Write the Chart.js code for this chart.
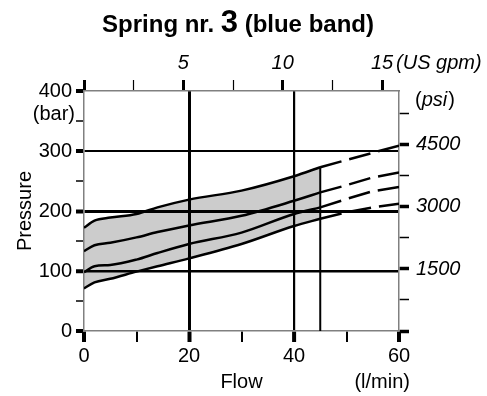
<!DOCTYPE html>
<html lang="en">
<head>
<meta charset="UTF-8">
<title>Spring nr. 3 (blue band)</title>
<style>
    html, body { margin: 0; padding: 0; background: #fff; }
    #wrap { width: 487px; height: 396px; }
</style>
<script src="https://cdn.jsdelivr.net/npm/chart.js"></script>
</head>
<body>
<div id="wrap"><canvas id="springChart" width="487" height="396"></canvas></div>
<script>
// flow in l/min, pressure in bar
const flowPoints = [0, 2, 5, 10, 14, 20, 30, 40, 45];
const bandUpper  = [172, 184, 189, 195, 206, 219, 234, 258, 273];
const curveHigh  = [133, 143, 147, 156, 165, 176, 192, 217, 231];
const curveLow   = [98, 108, 110, 119, 130, 145, 164, 195, 206];
const bandLower  = [71, 81, 87, 99, 108, 121, 145, 175, 187];

// dashed continuation past the 45 l/min limit
const extFlow  = [45, 50, 55, 60];
const extUpper = [273, 285, 297, 309];
const extHigh  = [231, 243, 256, 264];
const extLow   = [206, 220, 233, 240];
const extLower = [187, 198, 206, 212];

const limitFlow = 45;

const flowTicks = [0, 10, 20, 30, 40, 50, 60];
const gpmTicks  = [0, 2.5, 5, 7.5, 10, 12.5, 15];
const barTicks  = [0, 50, 100, 150, 200, 250, 300, 350, 400];
const psiTicks  = [0, 750, 1500, 2250, 3000, 3750, 4500, 5250];

const LPM_PER_GPM = 3.78541;
const PSI_PER_BAR = 14.5038;
const FONT = "'Liberation Sans', Arial, Helvetica, sans-serif";

function pts(xs, ys) {
    return xs.map((x, i) => ({ x: x, y: ys[i] }));
}

function solid(xs, ys, extra) {
    return Object.assign({
        data: pts(xs, ys),
        borderColor: '#000',
        borderWidth: 2.5,
        pointRadius: 0,
        fill: false
    }, extra || {});
}

function dashed(xs, ys) {
    return solid(xs, ys, { borderDash: [22, 8], cubicInterpolationMode: 'default', tension: 0 });
}

function setTicks(list) {
    return scale => { scale.ticks = list.map(v => ({ value: v })); };
}

const tickVal = c => (c.tick ? c.tick.value : NaN);

const extraText = {
    id: 'extraText',
    afterDraw(chart) {
        const c = chart.ctx;
        const area = chart.chartArea;
        const top = chart.scales.x2;
        c.save();
        c.fillStyle = '#000';

        // title with the large spring number
        const parts = [
            { t: 'Spring nr. ', f: 'bold 24px ' + FONT },
            { t: '3', f: 'bold 31px ' + FONT },
            { t: ' (blue band)', f: 'bold 24px ' + FONT }
        ];
        let total = 0;
        parts.forEach(p => { c.font = p.f; p.w = c.measureText(p.t).width; total += p.w; });
        let x = 238 - total / 2;
        c.textAlign = 'left';
        c.textBaseline = 'alphabetic';
        parts.forEach(p => { c.font = p.f; c.fillText(p.t, x, 32); x += p.w; });

        c.textBaseline = 'middle';
        c.font = '20px ' + FONT;
        c.textAlign = 'right';
        c.fillText('(bar)', area.left - 9, area.top + 23);
        c.fillText('(l/min)', area.right + 11, 382);

        c.font = 'italic 20px ' + FONT;
        c.textAlign = 'left';
        c.fillText('(US gpm)', top.getPixelForValue(15) + 14, 63);

        // (psi) with upright brackets
        let px = area.right + 16;
        c.font = '20px ' + FONT;
        c.fillText('(', px, 100);
        px += c.measureText('(').width;
        c.font = 'italic 20px ' + FONT;
        c.fillText('psi', px, 100);
        px += c.measureText('psi').width + 1;
        c.font = '20px ' + FONT;
        c.fillText(')', px, 100);
        c.restore();
    }
};

const tickFont = { family: FONT, size: 20 };
const italicFont = { family: FONT, size: 20, style: 'italic' };
const axisBorder = { display: true, color: '#808080', width: 1.5 };

new Chart(document.getElementById('springChart').getContext('2d'), {
    type: 'line',
    data: {
        datasets: [
            solid(flowPoints, bandUpper, { fill: 3, backgroundColor: '#cccccc' }),
            solid(flowPoints, curveHigh),
            solid(flowPoints, curveLow),
            solid(flowPoints, bandLower),
            dashed(extFlow, extUpper),
            dashed(extFlow, extHigh),
            dashed(extFlow, extLow),
            dashed(extFlow, extLower),
            solid([limitFlow, limitFlow], [0, bandUpper[bandUpper.length - 1]], { borderWidth: 2, tension: 0 })
        ]
    },
    options: {
        responsive: false,
        animation: false,
        layout: { padding: 0 },
        elements: { line: { cubicInterpolationMode: 'monotone' }, point: { radius: 0 } },
        plugins: {
            legend: { display: false },
            title: { display: false },
            tooltip: { enabled: false },
            filler: { drawTime: 'beforeDraw' }
        },
        scales: {
            x: {
                type: 'linear', position: 'bottom', min: 0, max: 60,
                afterBuildTicks: setTicks(flowTicks),
                afterFit: s => { s.height = 65; },
                ticks: { autoSkip: false, maxRotation: 0, padding: 2, color: '#000', font: tickFont,
                         callback: v => (v % 20 === 0 ? String(v) : '') },
                grid: {
                    color: '#000',
                    lineWidth: c => (tickVal(c) === 20 ? 3 : tickVal(c) === 40 ? 2.2 : 0),
                    tickColor: '#000',
                    tickWidth: c => (tickVal(c) % 20 === 0 ? 4 : 2),
                    tickLength: 11
                },
                border: axisBorder,
                title: { display: true, text: 'Flow', color: '#000', font: tickFont, padding: { top: 0, bottom: 2 } }
            },
            x2: {
                type: 'linear', position: 'top', min: 0, max: 60 / LPM_PER_GPM,
                afterBuildTicks: setTicks(gpmTicks),
                afterFit: s => { s.height = 91; },
                ticks: { autoSkip: false, maxRotation: 0, padding: 5, color: '#000', font: italicFont,
                         callback: v => (v > 0 && v % 5 === 0 ? String(v) : '') },
                grid: {
                    drawOnChartArea: false,
                    tickColor: '#000',
                    tickWidth: c => (tickVal(c) % 5 === 0 ? 3 : 1.2),
                    tickLength: 11
                },
                border: axisBorder
            },
            y: {
                type: 'linear', position: 'left', min: 0, max: 400,
                afterBuildTicks: setTicks(barTicks),
                afterFit: s => { s.width = 84; },
                ticks: { autoSkip: false, padding: 4, color: '#000', font: tickFont,
                         callback: v => (v % 100 === 0 ? String(v) : '') },
                grid: {
                    color: '#000',
                    lineWidth: c => (tickVal(c) === 100 ? 2.5 : tickVal(c) === 200 ? 3 : tickVal(c) === 300 ? 2 : 0),
                    tickColor: '#000',
                    tickWidth: c => (tickVal(c) % 100 === 0 ? 4 : 1.5),
                    tickLength: 8
                },
                border: axisBorder,
                title: { display: true, text: 'Pressure', color: '#000', font: tickFont, padding: { top: 13, bottom: 0 } }
            },
            y2: {
                type: 'linear', position: 'right', min: 0, max: 400 * PSI_PER_BAR,
                afterBuildTicks: setTicks(psiTicks),
                afterFit: s => { s.width = 88; },
                ticks: { autoSkip: false, padding: 7, color: '#000', font: italicFont,
                         callback: v => (v > 0 && v % 1500 === 0 ? String(v) : '') },
                grid: {
                    drawOnChartArea: false,
                    tickColor: '#000',
                    tickWidth: c => (tickVal(c) % 1500 === 0 ? 3.5 : 1.5),
                    tickLength: 10
                },
                border: axisBorder
            }
        }
    },
    plugins: [extraText]
});
</script>
</body>
</html>
